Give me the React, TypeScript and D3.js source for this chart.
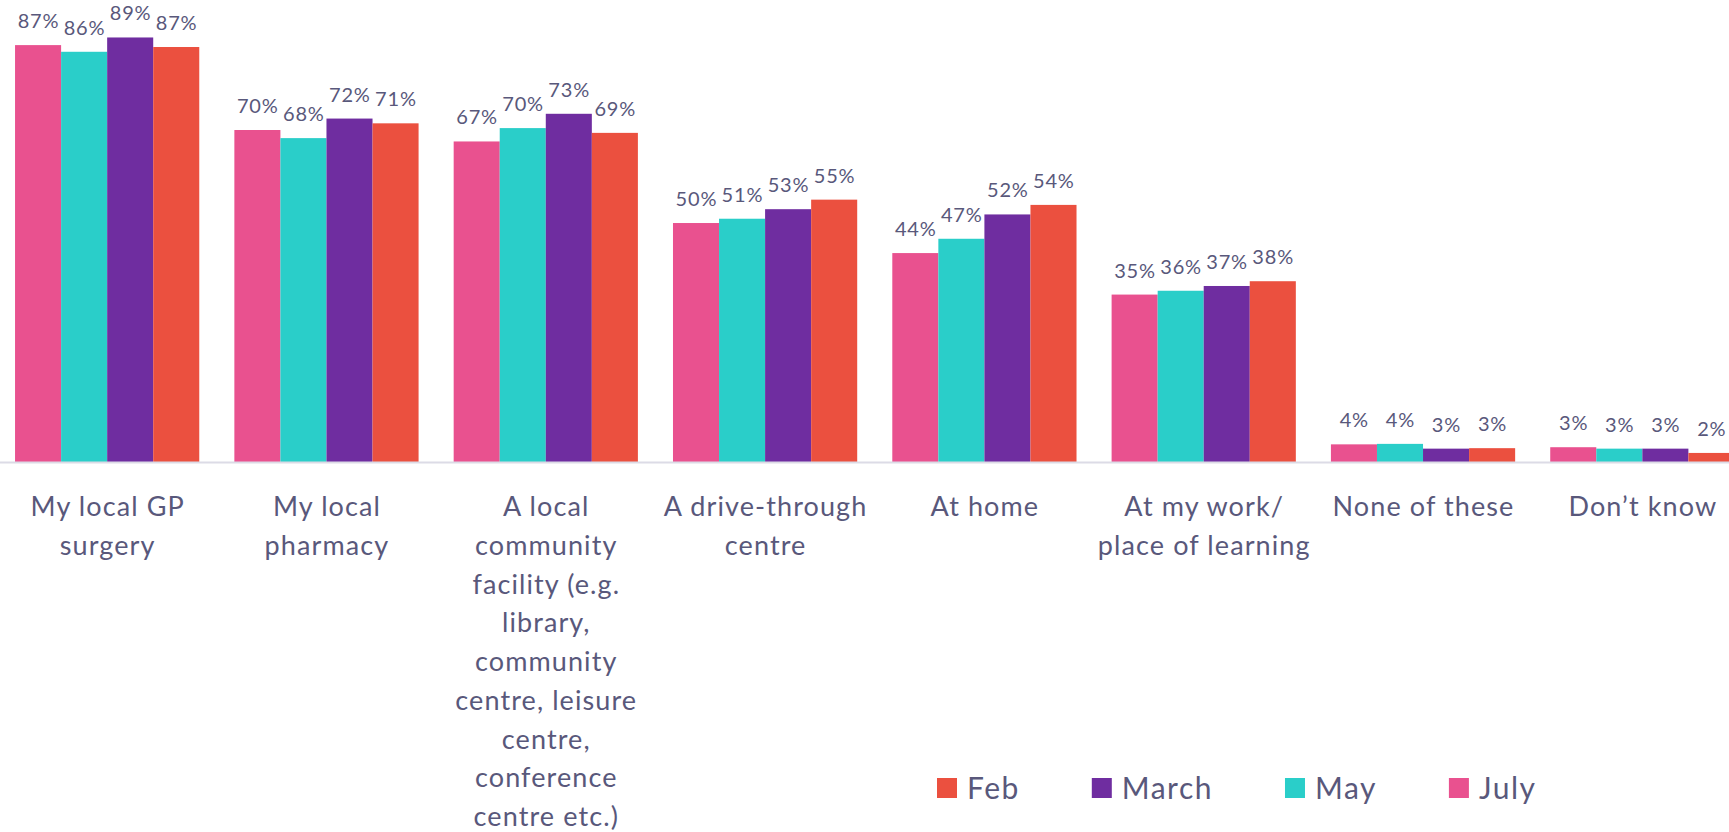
import React from "react";
import * as d3 from "d3";

const categories: string[][] = [
  ["My local GP", "surgery"],
  ["My local", "pharmacy"],
  ["A local", "community", "facility (e.g.", "library,", "community", "centre, leisure", "centre,", "conference", "centre etc.)"],
  ["A drive-through", "centre"],
  ["At home"],
  ["At my work/", "place of learning"],
  ["None of these"],
  ["Don\u2019t know"],
];

const seriesNames = ["July", "May", "March", "Feb"];
const julyValues = [87.4, 69.6, 67.2, 50.1, 43.8, 35.1, 3.7, 3.1];
const mayValues = [86.0, 67.9, 70.0, 51.0, 46.8, 35.9, 3.8, 2.8];
const marchValues = [89.0, 72.0, 73.0, 53.0, 51.9, 36.9, 2.8, 2.8];
const febValues = [87.0, 71.0, 69.0, 55.0, 53.9, 37.9, 2.9, 1.9];
const seriesValues = [julyValues, mayValues, marchValues, febValues];
const seriesColors = ["#E9518F", "#2ACEC9", "#6F2DA0", "#EB503F"];
const legendOrder = ["Feb", "March", "May", "July"];

const W = 1729;
const H = 832;
const FONT = "Lato, 'Open Sans', sans-serif";
const TEXT = "#59587B";

function measure(text: string, size: number, spacing: number): number {
  const c = document.createElement("canvas").getContext("2d");
  if (!c) return text.length * (size * 0.55 + spacing);
  c.font = `${size}px Lato`;
  return c.measureText(text).width + spacing * text.length;
}

export default function App() {
  const baseline = 462;
  const x0 = d3
    .scaleBand<number>()
    .domain(d3.range(categories.length))
    .range([-2.5, 1752])
    .paddingInner(0.16)
    .paddingOuter(0.08);
  const x1 = d3
    .scaleBand<number>()
    .domain(d3.range(seriesNames.length))
    .range([0, x0.bandwidth()]);
  const y = d3.scaleLinear().domain([0, 100]).range([baseline, baseline - 477]);

  const legendSize = 30;
  const legendSpacing = 1.5;
  let lx = 937;
  const legendItems = legendOrder.map((name) => {
    const idx = seriesNames.indexOf(name);
    const item = { name, color: seriesColors[idx], x: lx };
    lx += 30 + measure(name, legendSize, legendSpacing) + 72;
    return item;
  });

  return (
    <svg
      width={W}
      height={H}
      style={{ position: "absolute", left: 0, top: 0, background: "#fff" }}
      fontFamily={FONT}
    >
      {categories.map((lines, ci) => (
        <g key={ci} transform={`translate(${x0(ci)},0)`}>
          {seriesValues.map((vals, si) => (
            <rect
              key={si}
              x={x1(si)}
              y={y(vals[ci])}
              width={x1.bandwidth()}
              height={baseline - y(vals[ci])}
              fill={seriesColors[si]}
            />
          ))}
          {seriesValues.map((vals, si) => (
            <text
              key={"l" + si}
              x={(x1(si) as number) + x1.bandwidth() / 2 + 0.4}
              y={y(vals[ci]) - 17}
              textAnchor="middle"
              fontSize={20}
              letterSpacing={0.8}
              fill={TEXT}
            >
              {Math.round(vals[ci])}%
            </text>
          ))}
          <text textAnchor="middle" fontSize={27} letterSpacing={1.1} fill={TEXT}>
            {lines.map((ln, li) => (
              <tspan key={li} x={x0.bandwidth() / 2 + 0.5} y={516 + li * 38.75}>
                {ln}
              </tspan>
            ))}
          </text>
        </g>
      ))}
      <line x1={0} x2={W} y1={baseline + 0.5} y2={baseline + 0.5} stroke="#DCDBE6" strokeWidth={2} />
      {legendItems.map((it) => (
        <g key={it.name} transform={`translate(${it.x},0)`}>
          <rect x={0} y={778} width={20} height={20} fill={it.color} />
          <text x={30} y={799} fontSize={legendSize} letterSpacing={legendSpacing} fill={TEXT}>
            {it.name}
          </text>
        </g>
      ))}
    </svg>
  );
}
